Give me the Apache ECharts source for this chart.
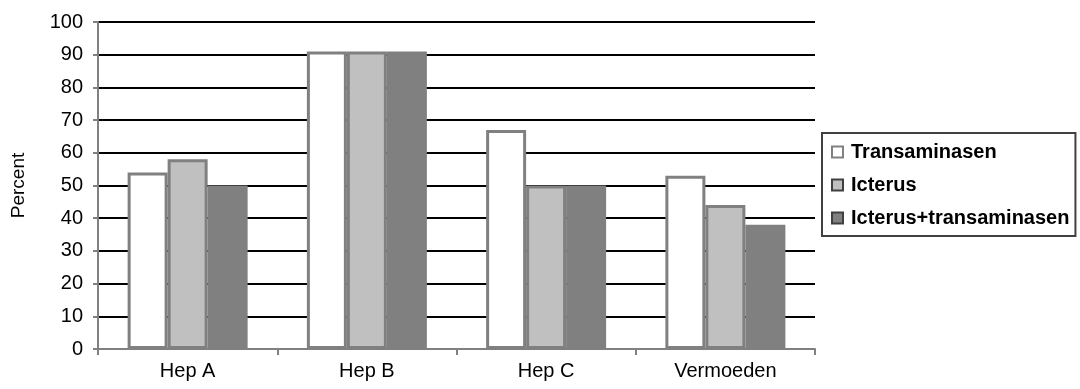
<!DOCTYPE html>
<html>
<head>
<meta charset="utf-8">
<script src="https://cdn.jsdelivr.net/npm/echarts@6/dist/echarts.min.js"></script>
<style>
  html, body { margin: 0; padding: 0; background: #ffffff; }
  #chart { width: 1080px; height: 389px; }
</style>
</head>
<body>
<div id="chart"></div>
<script>
// Categories and percentages per indicator
const categories = ['Hep A', 'Hep B', 'Hep C', 'Vermoeden'];
const seriesNames = ['Transaminasen', 'Icterus', 'Icterus+transaminasen'];
const transaminasen = [54, 91, 67, 53];
const icterus = [58, 91, 50, 44];
const icterusTransaminasen = [50, 91, 50, 38];
const yTicks = { min: 0, max: 100, interval: 10 };

const FONT = '"Liberation Sans", Arial, sans-serif';
const AXIS_GREY = '#808080';

const barStyles = [
  { color: '#ffffff', borderColor: AXIS_GREY },
  { color: '#c0c0c0', borderColor: AXIS_GREY },
  { color: '#808080', borderColor: AXIS_GREY }
];
const legendMarkers = [
  { color: '#ffffff', borderColor: AXIS_GREY },
  { color: '#c0c0c0', borderColor: '#404040' },
  { color: '#808080', borderColor: '#404040' }
];
const values = [transaminasen, icterus, icterusTransaminasen];

const chart = echarts.init(document.getElementById('chart'), null, { renderer: 'canvas' });

chart.setOption({
  animation: false,
  backgroundColor: '#ffffff',
  grid: { left: 98, right: 265, top: 22, bottom: 40, containLabel: false },
  legend: {
    orient: 'vertical',
    left: 822,
    top: 133,
    padding: [9, 6, 8, 9],
    itemGap: 13,
    itemWidth: 11,
    itemHeight: 11,
    icon: 'rect',
    borderColor: '#404040',
    borderWidth: 2,
    backgroundColor: '#ffffff',
    textStyle: { fontFamily: FONT, fontSize: 20, fontWeight: 'bold', color: '#000000', padding: [0, 0, 0, 3] },
    data: seriesNames.map((n, i) => ({
      name: n,
      itemStyle: { color: legendMarkers[i].color, borderColor: legendMarkers[i].borderColor, borderWidth: 2 }
    }))
  },
  xAxis: {
    type: 'category',
    data: categories,
    boundaryGap: true,
    axisLine: { show: true, lineStyle: { color: AXIS_GREY, width: 2 } },
    axisTick: { show: true, alignWithLabel: false, length: 6, lineStyle: { color: AXIS_GREY, width: 2 } },
    axisLabel: { fontFamily: FONT, fontSize: 20, color: '#000000', margin: 12 },
    splitLine: { show: false }
  },
  yAxis: {
    type: 'value',
    min: yTicks.min,
    max: yTicks.max,
    interval: yTicks.interval,
    name: 'Percent',
    nameLocation: 'middle',
    nameGap: 70,
    nameRotate: 90,
    nameTextStyle: { fontFamily: FONT, fontSize: 19, color: '#000000' },
    axisLine: { show: true, lineStyle: { color: AXIS_GREY, width: 2 } },
    axisTick: { show: true, inside: false, length: 5, lineStyle: { color: AXIS_GREY, width: 2 } },
    axisLabel: { fontFamily: FONT, fontSize: 20, color: '#000000', margin: 15 },
    splitLine: { show: true, lineStyle: { color: '#000000', width: 2 } }
  },
  series: seriesNames.map((n, i) => ({
    name: n,
    type: 'bar',
    data: values[i],
    barWidth: 40,
    barGap: '0%',
    itemStyle: { color: barStyles[i].color, borderColor: barStyles[i].borderColor, borderWidth: 3 },
    emphasis: { disabled: true }
  }))
});
</script>
</body>
</html>
